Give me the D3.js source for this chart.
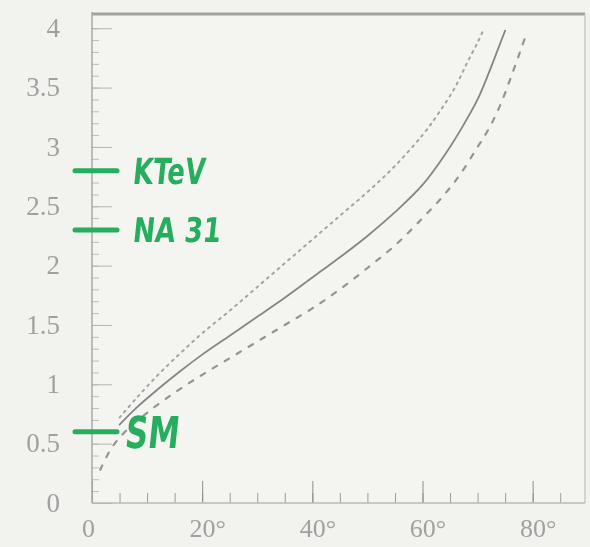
<!DOCTYPE html>
<html>
<head>
<meta charset="utf-8">
<script src="https://cdn.jsdelivr.net/npm/d3@7"></script>
<style>
  html, body { margin: 0; padding: 0; background: #f2f3ee; }
  svg { display: block; }
  .tick text { font-family: "Liberation Serif", "DejaVu Serif", serif; fill: #a0a0a0; }
</style>
</head>
<body>
<div id="chart"></div>
<script>
// tick values / labels
const angleTicks = [0, 20, 40, 60, 80];
const angleTickLabels = ["0", "20°", "40°", "60°", "80°"];
const valueTicks = [0, 0.5, 1, 1.5, 2, 2.5, 3, 3.5, 4];
const valueTickLabels = ["0", "0.5", "1", "1.5", "2", "2.5", "3", "3.5", "4"];

// central curve (solid)
const solidAngles = [5, 8, 12, 16, 20, 25, 30, 35, 40, 45, 50, 55, 60, 64, 67, 70, 72, 74, 75];
const solidValues = [0.66, 0.80, 0.96, 1.11, 1.25, 1.41, 1.57, 1.73, 1.90, 2.07, 2.25, 2.45, 2.68, 2.93, 3.15, 3.40, 3.62, 3.86, 3.98];

// upper curve (dotted)
const dottedAngles = [5, 8, 12, 16, 20, 25, 30, 35, 40, 45, 50, 55, 60, 63, 66, 68, 70, 71];
const dottedValues = [0.72, 0.88, 1.08, 1.26, 1.43, 1.62, 1.82, 2.02, 2.22, 2.42, 2.62, 2.84, 3.10, 3.29, 3.51, 3.70, 3.88, 3.98];

// lower curve (dashed)
const dashedAngles = [1.5, 3.5, 6, 10, 15, 20, 25, 30, 35, 40, 45, 50, 55, 60, 64, 67, 70, 72, 74, 76, 78, 79];
const dashedValues = [0.28, 0.46, 0.60, 0.76, 0.93, 1.08, 1.22, 1.36, 1.50, 1.64, 1.80, 1.98, 2.17, 2.40, 2.60, 2.78, 3.00, 3.15, 3.34, 3.58, 3.84, 3.97];

// hand-drawn experiment markers
const markerNames = ["KTeV", "NA 31", "SM"];
const markerValues = [2.8, 2.3, 0.6];

const width = 590, height = 547;
const plotLeft = 92, plotRight = 585, plotTop = 14, plotBottom = 503;

const x = d3.scaleLinear().domain([0, 89.5]).range([plotLeft, plotRight]);
const y = d3.scaleLinear().domain([0, 4.12]).range([plotBottom, plotTop]);

const svg = d3.select("#chart").append("svg")
    .attr("width", width)
    .attr("height", height);

// soft scan look
svg.append("defs").append("filter").attr("id", "soft")
    .append("feGaussianBlur").attr("stdDeviation", 0.45);

svg.append("rect").attr("width", width).attr("height", height).attr("fill", "#f2f3ee");

const g = svg.append("g").attr("filter", "url(#soft)");

g.append("rect")
    .attr("x", plotLeft).attr("y", plotTop)
    .attr("width", plotRight - plotLeft).attr("height", plotBottom - plotTop)
    .attr("fill", "#f4f5f1");

// minor ticks
g.append("g")
    .attr("transform", `translate(${plotLeft},0)`)
    .call(d3.axisLeft(y).tickValues(d3.range(0, 41).map(i => i / 10)).tickSize(-7).tickFormat(""))
    .call(a => a.select(".domain").remove())
    .call(a => a.selectAll("line").attr("stroke", "#bcbcbc"));

g.append("g")
    .attr("transform", `translate(0,${plotBottom})`)
    .call(d3.axisBottom(x).tickValues(d3.range(0, 90, 5)).tickSize(-10).tickFormat(""))
    .call(a => a.select(".domain").remove())
    .call(a => a.selectAll("line").attr("stroke", "#9c9c9c"));

// major ticks + labels
g.append("g")
    .attr("transform", `translate(${plotLeft},0)`)
    .call(d3.axisLeft(y).tickValues(valueTicks).tickSize(-20).tickPadding(32)
        .tickFormat((d, i) => valueTickLabels[i]))
    .call(a => a.select(".domain").remove())
    .call(a => a.selectAll("line").attr("stroke", "#b4b4b4"))
    .call(a => a.selectAll("text").attr("font-size", 27).attr("dy", "0.3em"));

g.append("g")
    .attr("transform", `translate(0,${plotBottom})`)
    .call(d3.axisBottom(x).tickValues(angleTicks).tickSize(-22).tickPadding(16)
        .tickFormat((d, i) => angleTickLabels[i]))
    .call(a => a.select(".domain").remove())
    .call(a => a.selectAll("line").attr("stroke", "#8c8c8c"))
    .call(a => a.selectAll("text").attr("font-size", 26).attr("dx", d => d === 0 ? -4 : 5));

// frame
g.append("line").attr("x1", plotLeft).attr("x2", plotRight).attr("y1", plotTop).attr("y2", plotTop)
    .attr("stroke", "#a2a29f").attr("stroke-width", 3);
g.append("line").attr("x1", plotLeft).attr("x2", plotLeft).attr("y1", plotTop - 2).attr("y2", plotBottom)
    .attr("stroke", "#a8a8a8").attr("stroke-width", 1.5);
g.append("line").attr("x1", plotRight).attr("x2", plotRight).attr("y1", plotTop).attr("y2", plotBottom)
    .attr("stroke", "#c8c8c4").attr("stroke-width", 1.5);
g.append("line").attr("x1", plotLeft).attr("x2", plotRight).attr("y1", plotBottom).attr("y2", plotBottom)
    .attr("stroke", "#b8b8b4").attr("stroke-width", 1.5);

// curves
const line = d3.line()
    .x(d => x(d[0]))
    .y(d => y(d[1]))
    .curve(d3.curveCatmullRom.alpha(0.5));

const curves = [
    { a: dottedAngles, v: dottedValues, color: "#a4a4a4", w: 2, dash: "2,5" },
    { a: dashedAngles, v: dashedValues, color: "#949494", w: 2.2, dash: "5,9" },
    { a: solidAngles, v: solidValues, color: "#858585", w: 1.8, dash: null }
];

curves.forEach(c => {
    g.append("path")
        .datum(d3.zip(c.a, c.v))
        .attr("fill", "none")
        .attr("stroke", c.color)
        .attr("stroke-width", c.w)
        .attr("stroke-linecap", "round")
        .attr("stroke-dasharray", c.dash)
        .attr("d", line);
});

// green hand annotations
const green = "#27ad5d";
const labelWidth = { "KTeV": 72, "NA 31": 88, "SM": 54 };
const labelSize = { "KTeV": 36, "NA 31": 34, "SM": 44 };

markerNames.forEach((name, i) => {
    const yy = y(markerValues[i]);
    g.append("line")
        .attr("x1", 75).attr("x2", 117)
        .attr("y1", yy).attr("y2", yy)
        .attr("stroke", green).attr("stroke-width", 5)
        .attr("stroke-linecap", "round");
    const tx = name === "SM" ? 124 : 132;
    g.append("text")
        .attr("transform", `translate(${tx},${yy + labelSize[name] * 0.36}) skewX(-6)`)
        .attr("font-family", "DejaVu Sans")
        .attr("font-weight", "bold")
        .attr("font-size", labelSize[name])
        .attr("fill", green)
        .attr("textLength", labelWidth[name])
        .attr("lengthAdjust", "spacingAndGlyphs")
        .text(name);
});
</script>
</body>
</html>
